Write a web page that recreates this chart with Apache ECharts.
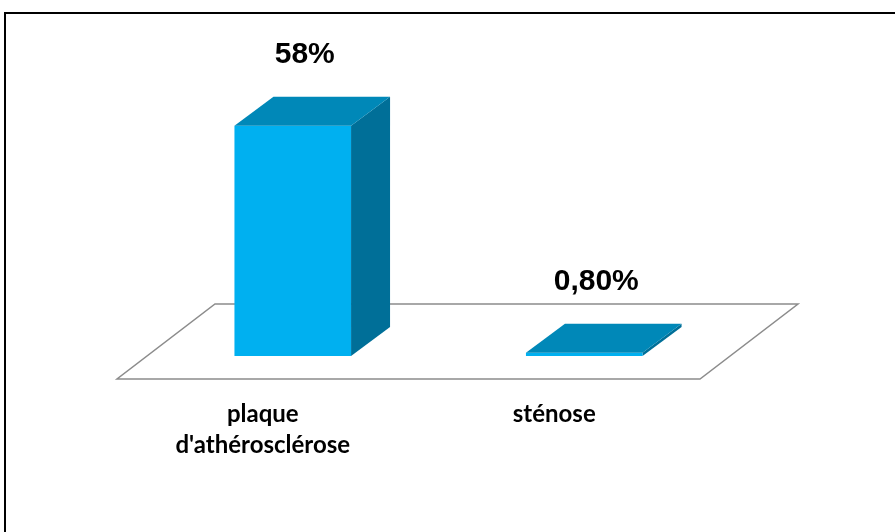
<!DOCTYPE html>
<html>
<head>
<meta charset="utf-8">
<script src="https://cdn.jsdelivr.net/npm/echarts@6/dist/echarts.min.js"></script>
<style>
  html, body { margin: 0; padding: 0; background: #fff; }
  #chart { width: 895px; height: 532px; }
</style>
</head>
<body>
<div id="chart"></div>
<script>
// Categories and their percentages
var categories = ['plaque\nd\'athérosclérose', 'sténose'];
var values = [58, 0.8];

// Percent label in French notation: 58 -> "58%", 0.8 -> "0,80%"
function pctLabel(v) {
  var s = Number.isInteger(v) ? String(v) : v.toFixed(2);
  return s.replace('.', ',') + '%';
}

var FRONT = '#00B0F0';
var TOP = '#0088B8';
var SIDE = '#006F98';
var BAR_DEPTH = [39, -29];     // receding offset of each bar
var FLOOR_FRONT = [-30, 23];   // floor front edge relative to the bar plane
var FLOOR_BACK = [68, -52];    // floor back edge relative to the bar plane

var chart = echarts.init(document.getElementById('chart'));

chart.setOption({
  animation: false,
  backgroundColor: '#fff',
  grid: { left: 147, right: 165, top: 78, bottom: 176 },
  xAxis: {
    type: 'category',
    data: categories,
    axisLine: { show: false },
    axisTick: { show: false },
    axisLabel: { show: false }
  },
  yAxis: {
    type: 'value',
    min: 0,
    max: 70,
    show: false,
    splitLine: { show: false }
  },
  graphic: [{
    type: 'rect',
    shape: { x: 5, y: 13, width: 900, height: 530 },
    style: { fill: 'none', stroke: '#000', lineWidth: 2 },
    z: 100
  }],
  series: [
    {
      // Floor plane with the category names in front of it
      type: 'custom',
      data: [0],
      z: 1,
      silent: true,
      renderItem: function (params, api) {
        var cs = params.coordSys;
        var x0 = cs.x, x1 = cs.x + cs.width, yb = cs.y + cs.height;
        var children = [{
          type: 'polygon',
          shape: { points: [
            [x0 + FLOOR_FRONT[0], yb + FLOOR_FRONT[1]],
            [x1 + FLOOR_FRONT[0], yb + FLOOR_FRONT[1]],
            [x1 + FLOOR_BACK[0], yb + FLOOR_BACK[1]],
            [x0 + FLOOR_BACK[0], yb + FLOOR_BACK[1]]
          ] },
          style: { fill: '#fff', stroke: '#8c8c8c', lineWidth: 1.5 }
        }];
        categories.forEach(function (c, i) {
          var p = api.coord([i, 0]);
          children.push({
            type: 'text',
            x: p[0] + FLOOR_FRONT[0],
            y: yb + FLOOR_FRONT[1] + 20,
            style: {
              text: c,
              fill: '#000',
              font: 'bold 24px Lato, "Open Sans", sans-serif',
              align: 'center',
              verticalAlign: 'top',
              lineHeight: 31
            }
          });
        });
        return { type: 'group', children: children };
      }
    },
    {
      // 3D bars: front, side and top faces plus the value label
      type: 'custom',
      data: values.map(function (v, i) { return [i, v]; }),
      encode: { x: 0, y: 1 },
      z: 2,
      silent: true,
      renderItem: function (params, api) {
        var i = api.value(0), v = api.value(1);
        var base = api.coord([i, 0]);
        var top = api.coord([i, v]);
        var w = api.size([1, 0])[0] * 0.4;
        var xl = base[0] - w / 2, xr = base[0] + w / 2;
        var yb = base[1], yt = top[1];
        var dx = BAR_DEPTH[0], dy = BAR_DEPTH[1];
        return {
          type: 'group',
          children: [
            {
              type: 'polygon',
              shape: { points: [[xr, yb], [xr + dx, yb + dy], [xr + dx, yt + dy], [xr, yt]] },
              style: { fill: SIDE }
            },
            {
              type: 'polygon',
              shape: { points: [[xl, yb], [xr, yb], [xr, yt], [xl, yt]] },
              style: { fill: FRONT }
            },
            {
              type: 'polygon',
              shape: { points: [[xl, yt], [xr, yt], [xr + dx, yt + dy], [xl + dx, yt + dy]] },
              style: { fill: TOP }
            },
            {
              type: 'text',
              x: base[0] + 12,
              y: yt + dy - 42,
              style: {
                text: pctLabel(v),
                fill: '#000',
                font: 'bold 30px "Liberation Sans", Arial, sans-serif',
                align: 'center',
                verticalAlign: 'middle'
              }
            }
          ]
        };
      }
    }
  ]
});
</script>
</body>
</html>
